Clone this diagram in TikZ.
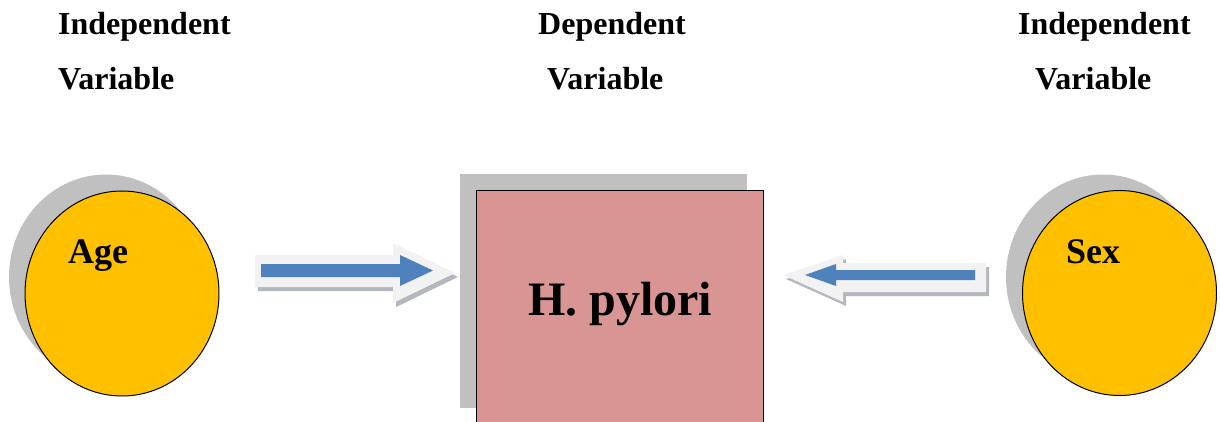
\documentclass[tikz,border=0pt]{standalone}
\usepackage{fontspec}
\setmainfont{Liberation Serif}
\usetikzlibrary{shapes.geometric}
\definecolor{gold}{HTML}{FFC000}
\definecolor{rose}{HTML}{D99594}
\definecolor{shadowgray}{HTML}{C0C0C0}
\definecolor{bluearrow}{HTML}{4F81BD}
\definecolor{arrowrim}{HTML}{F2F2F2}
\definecolor{arrowshadow}{HTML}{B4B6C0}
\tikzset{
  heading/.style={anchor=base west, inner sep=0pt, font=\fontsize{32}{38}\bfseries\selectfont},
  circlabel/.style={anchor=base west, inner sep=0pt, font=\fontsize{36}{42}\bfseries\selectfont},
  varcircle/.style={ellipse, draw=black, line width=1pt, fill=gold, minimum width=194pt, minimum height=205pt, inner sep=0pt},
  circshadow/.style={ellipse, fill=shadowgray, minimum width=194pt, minimum height=205pt, inner sep=0pt},
}
\begin{document}
\begin{tikzpicture}[x=1pt,y=-1pt]
\useasboundingbox (0,0) rectangle (1220,422);
% headings
\node[heading] (h1a) at (58,35) {Independent};
\node[heading] (h1b) at (58,90) {Variable};
\node[heading] (h2a) at (538,35) {Dependent};
\node[heading] (h2b) at (547,90) {Variable};
\node[heading] (h3a) at (1018,35) {Independent};
\node[heading] (h3b) at (1035,90) {Variable};
% left circle
\node[circshadow] (ageshadow) at (106,277) {};
\node[varcircle] (age) at (122,293.5) {};
\node[circlabel] (agetxt) at (68,263) {Age};
% right circle
\node[circshadow] (sexshadow) at (1103,277) {};
\node[varcircle] (sex) at (1119.5,293) {};
\node[circlabel] (sextxt) at (1066,263) {Sex};
% central box
\fill[shadowgray] (460,174) rectangle (747,408);
\node[draw=black, line width=1.2pt, fill=rose, minimum width=287pt, minimum height=234pt, inner sep=0pt, anchor=north west] (hp) at (476,190) {};
\node[anchor=base west, inner sep=0pt, font=\fontsize{48}{56}\bfseries\selectfont] (hptxt) at (528,315) {H. pylori};
% left arrow
\fill[arrowshadow] (258,259) -- (396,259) -- (396,247) -- (458,277) -- (396,307) -- (396,291) -- (258,291) -- cycle;
\fill[arrowrim] (255,255) -- (393,255) -- (393,243) -- (455,273) -- (393,303) -- (393,287) -- (255,287) -- cycle;
\fill[bluearrow] (261,264) -- (400,264) -- (400,255) -- (433,270.5) -- (400,286) -- (400,277) -- (261,277) -- cycle;
% right arrow
\fill[arrowshadow] (989,267) -- (846,267) -- (846,259) -- (786,279) -- (846,306) -- (846,296) -- (989,296) -- cycle;
\fill[arrowrim] (986,263) -- (843,263) -- (843,255) -- (783,275) -- (843,302) -- (843,292) -- (986,292) -- cycle;
\fill[bluearrow] (975,270) -- (836,270) -- (836,264) -- (805,275) -- (836,286) -- (836,280) -- (975,280) -- cycle;
\end{tikzpicture}
\end{document}
